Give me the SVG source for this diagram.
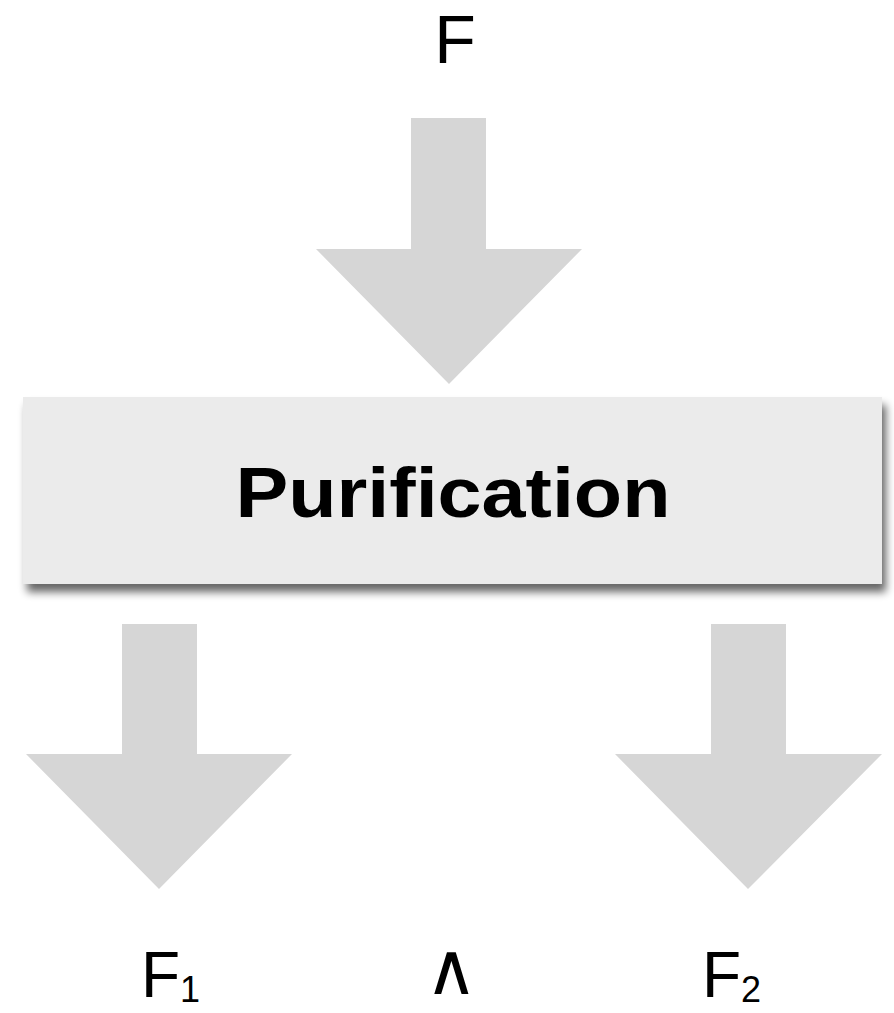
<svg xmlns="http://www.w3.org/2000/svg" width="894" height="1013" viewBox="0 0 894 1013">
<style>
.arrow{fill:#d6d6d6}
.lbl{font-family:"Liberation Sans","DejaVu Sans",sans-serif;fill:#000}
</style>
<defs>
<filter id="sh" x="-5%" y="-10%" width="115%" height="135%">
<feGaussianBlur in="SourceAlpha" stdDeviation="4"/>
<feOffset dx="4" dy="8" result="b"/>
<feComponentTransfer><feFuncA type="linear" slope="0.6"/></feComponentTransfer>
<feMerge><feMergeNode/><feMergeNode in="SourceGraphic"/></feMerge>
</filter>
</defs>
<rect width="894" height="1013" fill="#fff"/>
<g id="connectors">
<polygon class="arrow" points="411,118 486,118 486,249 582,249 449,384 316,249 411,249"/>
<polygon class="arrow" points="122,624 197,624 197,754 292,754 159,889 26,754 122,754"/>
<polygon class="arrow" points="711,624 786,624 786,754 882,754 748,889 615,754 711,754"/>
</g>
<g id="node-F"><text class="lbl" x="455" y="63" font-size="68" text-anchor="middle">F</text></g>
<g id="node-purification">
<rect x="23" y="397" width="859" height="187" fill="#ebebeb" filter="url(#sh)"/>
<text class="lbl" x="453" y="517" font-size="70" font-weight="bold" text-anchor="middle" textLength="435" lengthAdjust="spacingAndGlyphs">Purification</text>
</g>
<g id="node-F1"><text class="lbl" x="141" y="997" font-size="64">F<tspan font-size="36" dy="5">1</tspan></text></g>
<g id="node-and"><text x="451" y="994" font-size="72" text-anchor="middle" font-family="DejaVu Sans, sans-serif" font-weight="200" fill="#000">∧</text></g>
<g id="node-F2"><text class="lbl" x="702" y="997" font-size="64">F<tspan font-size="36" dy="5">2</tspan></text></g>
</svg>
